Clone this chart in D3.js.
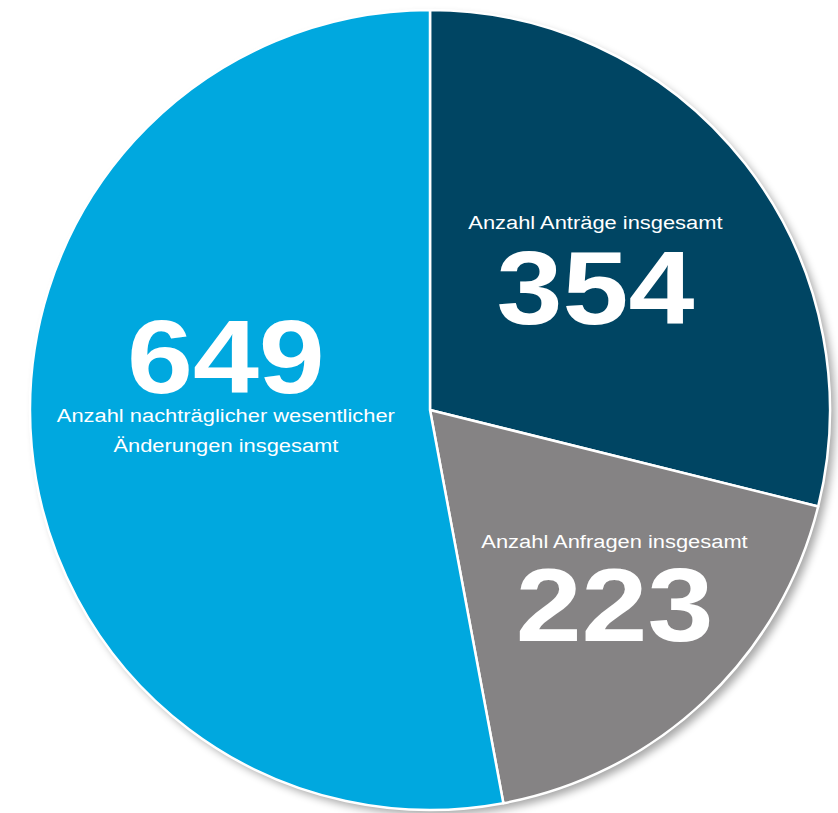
<!DOCTYPE html>
<html>
<head>
<meta charset="utf-8">
<script src="https://cdn.jsdelivr.net/npm/d3@7"></script>
<style>
  body { margin: 0; background: #fff; }
  svg { display: block; font-family: "Liberation Sans", Arial, sans-serif; }
</style>
</head>
<body>
<svg id="chart" width="838" height="813"></svg>
<script>
const values = [354, 223, 649];
const labels = [['Anzahl Anträge insgesamt'], ['Anzahl Anfragen insgesamt'], ['Anzahl nachträglicher wesentlicher', 'Änderungen insgesamt']];
const colors = ['#004563', '#858384', '#00a8df'];

const cx = 430;
const cy = 410;
const radius = 400;

const svg = d3.select('#chart');

const defs = svg.append('defs');
const filter = defs.append('filter').attr('id', 'shadow')
  .attr('x', '-10%').attr('y', '-10%').attr('width', '120%').attr('height', '120%');
filter.append('feGaussianBlur').attr('in', 'SourceAlpha').attr('stdDeviation', 4);
filter.append('feOffset').attr('dx', 5).attr('dy', 5).attr('result', 'b');
filter.append('feComponentTransfer').append('feFuncA').attr('type', 'linear').attr('slope', 0.35);

const g = svg.append('g').attr('transform', `translate(${cx},${cy})`);

g.append('circle').attr('r', radius).attr('fill', '#000').attr('filter', 'url(#shadow)');

const pie = d3.pie().sort(null).value((d) => d);
const arcs = pie(values);

const arc = d3.arc().innerRadius(0).outerRadius(radius);

g.selectAll('path.slice')
  .data(arcs)
  .join('path')
  .attr('class', 'slice')
  .attr('d', arc)
  .attr('fill', (d, i) => colors[i])
  .attr('stroke', '#fff')
  .attr('stroke-width', 2.5)
  .attr('stroke-linejoin', 'round');

// label anchor radius per slice, plus small nudges
const labelR = [210, 269, 205];
const numY = [43, 35, -36];
const capY = [[-52], [-58], [-7, 23]];
const sx = 1.14;

arcs.forEach((d, i) => {
  const [x, y] = d3.arc().innerRadius(labelR[i]).outerRadius(labelR[i]).centroid(d);
  const t = g.append('g')
    .attr('transform', `translate(${x},${y}) scale(${sx},1)`)
    .attr('fill', '#fff')
    .attr('text-anchor', 'middle');
  t.append('text').attr('y', numY[i]).attr('font-size', 104).attr('font-weight', 'bold').text(values[i]);
  labels[i].forEach((l, k) => {
    t.append('text').attr('y', capY[i][k]).attr('font-size', 19.2).text(l);
  });
});
</script>
</body>
</html>
